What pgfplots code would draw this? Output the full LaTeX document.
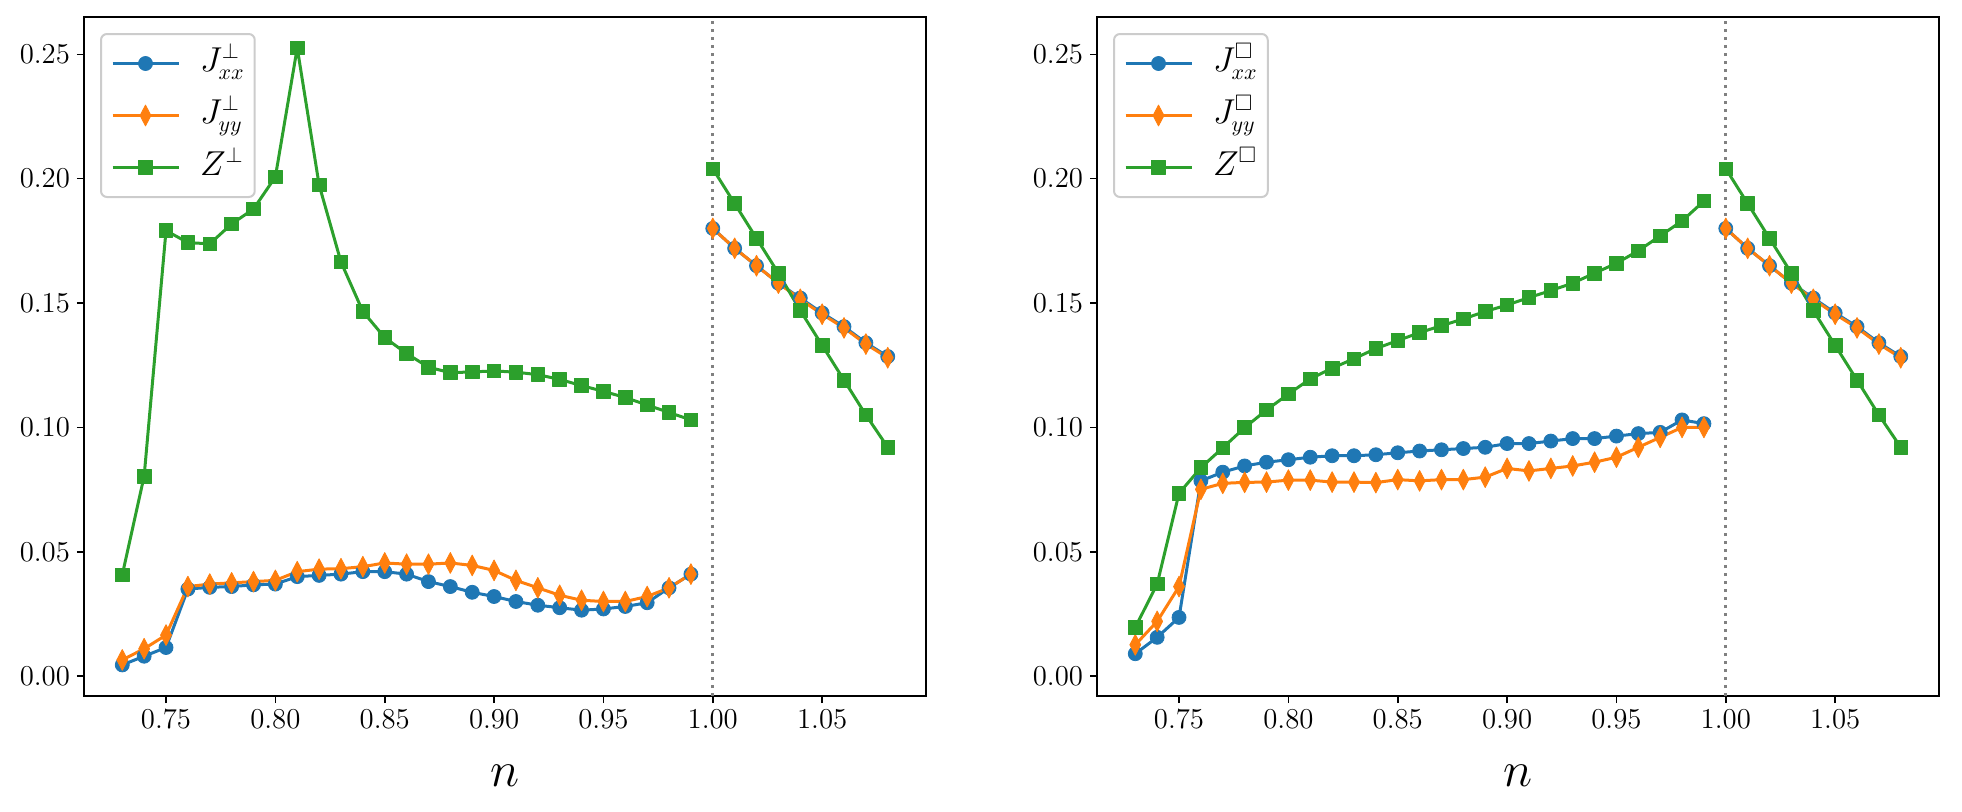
\documentclass[border=0pt]{standalone}
\usepackage{pgfplots}
\pgfplotsset{compat=1.18}
\usepackage{amssymb}
\definecolor{c1}{HTML}{1F77B4}
\definecolor{c2}{HTML}{FF7F0E}
\definecolor{c3}{HTML}{2CA02C}
\tikzset{vl/.style={gray, line width=1.5pt, dash pattern=on 1.5pt off 2.5pt}}
\pgfplotsset{
  myax/.style={
    scale only axis, width=421pt, height=339.5pt,
    xmin=0.7125, xmax=1.0975, ymin=-0.008, ymax=0.265,
    xtick={0.75,0.8,0.85,0.9,0.95,1.0,1.05},
    ytick={0,0.05,0.1,0.15,0.2,0.25},
    scaled ticks=false,
    tick align=outside, xtick pos=bottom, ytick pos=left,
    major tick length=3.5pt,
    tick style={black, line width=0.8pt},
    axis line style={black, line width=0.8pt},
    ticklabel style={font=\fontsize{14.4}{17}\selectfont,
      /pgf/number format/fixed, /pgf/number format/fixed zerofill,
      /pgf/number format/precision=2},
    xlabel={$n$},
    xlabel style={font=\fontsize{24}{28}\selectfont, at={(axis description cs:0.5,0)}, anchor=center, yshift=-40pt},
    legend cell align=left,
    legend style={at={(0,1)}, anchor=north west, xshift=8pt, yshift=-8pt,
      draw=black!20, line width=1pt, rounded corners=3pt, fill=white,
      font=\fontsize{16}{19}\selectfont,
      inner xsep=5pt, inner ysep=5.5pt, row sep=7.5pt, column sep=10pt,
      nodes={inner sep=0pt},
      /tikz/every even column/.append style={nodes={text height=13pt, text depth=5.5pt}}},
    legend image code/.code={\draw[sharp corners, mark repeat=2, mark phase=2] plot coordinates {(0pt,0pt) (16.5pt,0pt) (33pt,0pt)};},
  },
  sJx/.style={c1, line width=1.5pt, line join=round, sharp corners, mark=*, mark size=3.5pt, mark options={solid, line width=0.4pt, fill=c1, draw=c1}},
  sJy/.style={c2, line width=1.5pt, line join=round, sharp corners, mark=diamond*, mark size=5.2pt, mark options={solid, xscale=0.7, line width=0.4pt, fill=c2, draw=c2}},
  sZ/.style={c3, line width=1.5pt, line join=round, sharp corners, mark=square*, mark size=3.4pt, mark options={solid, line width=0.4pt, fill=c3, draw=c3}},
}
\begin{document}
\begin{tikzpicture}
\path[use as bounding box] (0,0) rectangle (981pt,405.5pt);
% ---------------- left panel ----------------
\begin{axis}[myax, at={(42pt,57.5pt)}, anchor=south west]
\draw[vl] (axis cs:1,-0.008) -- (axis cs:1,0.265);
\addplot[sJx] coordinates {
(0.73,0.0045)(0.74,0.008)(0.75,0.0115)(0.76,0.035)(0.77,0.0357)(0.78,0.036)(0.79,0.0367)
(0.80,0.037)(0.81,0.040)(0.82,0.0405)(0.83,0.041)(0.84,0.042)(0.85,0.042)(0.86,0.041)
(0.87,0.038)(0.88,0.036)(0.89,0.0337)(0.90,0.032)(0.91,0.030)(0.92,0.0285)(0.93,0.0275)
(0.94,0.0265)(0.95,0.027)(0.96,0.028)(0.97,0.0295)(0.98,0.0355)(0.99,0.041)};
\addlegendentry{$J^{\perp}_{xx}$}
\addplot[sJx, forget plot] coordinates {
(1.00,0.180)(1.01,0.172)(1.02,0.165)(1.03,0.158)(1.04,0.152)(1.05,0.146)(1.06,0.1405)(1.07,0.134)(1.08,0.1285)};
\addplot[sJy] coordinates {
(0.73,0.0065)(0.74,0.011)(0.75,0.0165)(0.76,0.036)(0.77,0.037)(0.78,0.0375)(0.79,0.038)
(0.80,0.0385)(0.81,0.042)(0.82,0.043)(0.83,0.0432)(0.84,0.044)(0.85,0.0455)(0.86,0.045)
(0.87,0.045)(0.88,0.0455)(0.89,0.0445)(0.90,0.0425)(0.91,0.0385)(0.92,0.0355)(0.93,0.0325)
(0.94,0.0305)(0.95,0.030)(0.96,0.030)(0.97,0.032)(0.98,0.0355)(0.99,0.041)};
\addlegendentry{$J^{\perp}_{yy}$}
\addplot[sJy, forget plot] coordinates {
(1.00,0.180)(1.01,0.172)(1.02,0.165)(1.03,0.158)(1.04,0.1515)(1.05,0.1455)(1.06,0.140)(1.07,0.1335)(1.08,0.128)};
\addplot[sZ] coordinates {
(0.73,0.0407)(0.74,0.0804)(0.75,0.1791)(0.76,0.1743)(0.77,0.1738)(0.78,0.1818)(0.79,0.1878)
(0.80,0.2007)(0.81,0.2526)(0.82,0.1975)(0.83,0.1665)(0.84,0.1466)(0.85,0.1361)(0.86,0.1297)
(0.87,0.1242)(0.88,0.122)(0.89,0.1223)(0.90,0.1227)(0.91,0.1222)(0.92,0.1212)(0.93,0.1193)
(0.94,0.1168)(0.95,0.1145)(0.96,0.112)(0.97,0.109)(0.98,0.106)(0.99,0.103)};
\addlegendentry{$Z^{\perp}$}
\addplot[sZ, forget plot] coordinates {
(1.00,0.204)(1.01,0.190)(1.02,0.176)(1.03,0.162)(1.04,0.147)(1.05,0.133)(1.06,0.119)(1.07,0.105)(1.08,0.092)};
\end{axis}
% ---------------- right panel ----------------
\begin{axis}[myax, at={(548.5pt,57.5pt)}, anchor=south west]
\draw[vl] (axis cs:1,-0.008) -- (axis cs:1,0.265);
\addplot[sJx] coordinates {
(0.73,0.009)(0.74,0.0156)(0.75,0.0236)(0.76,0.0785)(0.77,0.082)(0.78,0.0845)(0.79,0.086)
(0.80,0.087)(0.81,0.088)(0.82,0.0886)(0.83,0.0886)(0.84,0.089)(0.85,0.0898)(0.86,0.0905)
(0.87,0.091)(0.88,0.0915)(0.89,0.092)(0.90,0.0935)(0.91,0.0935)(0.92,0.0945)(0.93,0.0955)
(0.94,0.0955)(0.95,0.0965)(0.96,0.0975)(0.97,0.098)(0.98,0.103)(0.99,0.1015)};
\addlegendentry{$J^{\square}_{xx}$}
\addplot[sJx, forget plot] coordinates {
(1.00,0.180)(1.01,0.172)(1.02,0.165)(1.03,0.158)(1.04,0.152)(1.05,0.146)(1.06,0.1405)(1.07,0.134)(1.08,0.1285)};
\addplot[sJy] coordinates {
(0.73,0.0126)(0.74,0.022)(0.75,0.036)(0.76,0.0751)(0.77,0.0775)(0.78,0.0779)(0.79,0.078)
(0.80,0.0788)(0.81,0.0788)(0.82,0.078)(0.83,0.078)(0.84,0.0778)(0.85,0.079)(0.86,0.0785)
(0.87,0.079)(0.88,0.079)(0.89,0.080)(0.90,0.0835)(0.91,0.0825)(0.92,0.0835)(0.93,0.0845)
(0.94,0.086)(0.95,0.088)(0.96,0.092)(0.97,0.096)(0.98,0.100)(0.99,0.100)};
\addlegendentry{$J^{\square}_{yy}$}
\addplot[sJy, forget plot] coordinates {
(1.00,0.180)(1.01,0.172)(1.02,0.165)(1.03,0.158)(1.04,0.1515)(1.05,0.1455)(1.06,0.140)(1.07,0.1335)(1.08,0.128)};
\addplot[sZ] coordinates {
(0.73,0.0196)(0.74,0.037)(0.75,0.0735)(0.76,0.0838)(0.77,0.0918)(0.78,0.0999)(0.79,0.107)
(0.80,0.1134)(0.81,0.1195)(0.82,0.1238)(0.83,0.1276)(0.84,0.1317)(0.85,0.1349)(0.86,0.1381)
(0.87,0.1409)(0.88,0.1436)(0.89,0.1466)(0.90,0.1492)(0.91,0.1522)(0.92,0.155)(0.93,0.158)
(0.94,0.162)(0.95,0.166)(0.96,0.171)(0.97,0.177)(0.98,0.183)(0.99,0.191)};
\addlegendentry{$Z^{\square}$}
\addplot[sZ, forget plot] coordinates {
(1.00,0.204)(1.01,0.190)(1.02,0.176)(1.03,0.162)(1.04,0.147)(1.05,0.133)(1.06,0.119)(1.07,0.105)(1.08,0.092)};
\end{axis}
\end{tikzpicture}
\end{document}
